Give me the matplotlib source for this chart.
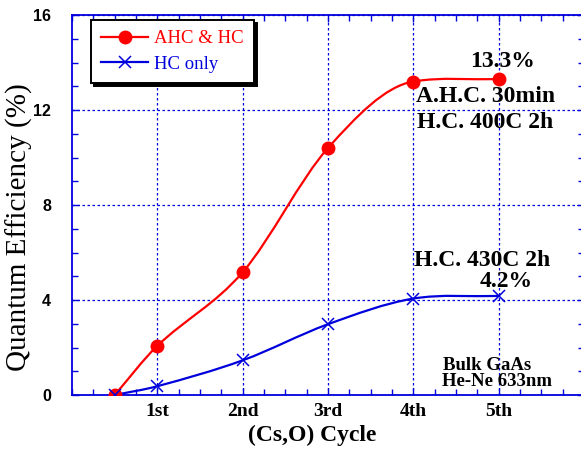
import numpy as np
import matplotlib
matplotlib.use("Agg")
import matplotlib.pyplot as plt
from matplotlib.path import Path
from matplotlib.patches import PathPatch
from matplotlib.ticker import MultipleLocator
from matplotlib.lines import Line2D

cycles = [0.5, 1, 2, 3, 4, 5]
tick_labels = ["1st", "2nd", "3rd", "4th", "5th"]
ahc_hc = [0.0, 2.07, 5.17, 10.4, 13.2, 13.3]
hc_only = [0.0, 0.37, 1.46, 2.98, 4.06, 4.17]

SERIF = "Liberation Serif"
SANS = "Liberation Sans"
BLUE = "#0000dd"
RED = "#ff0000"

fig = plt.figure(figsize=(5.81, 4.49), dpi=100)
ax = fig.add_axes([72/581, 54/449, 512/581, 380/449])


def smooth_path(xs, ys):
    # cardinal cubic with limited tangents, as Bezier segments
    x = np.asarray(xs, float); y = np.asarray(ys, float)
    h = np.diff(x); d = np.diff(y) / h
    n = len(x)
    m = np.zeros(n)
    m[0] = d[0]; m[-1] = d[-1]
    for i in range(1, n - 1):
        s = (y[i + 1] - y[i - 1]) / (x[i + 1] - x[i - 1])
        lim = 6 * min(abs(d[i - 1]), abs(d[i]))
        m[i] = np.sign(s) * min(abs(s), lim)
    verts = [(x[0], y[0])]
    codes = [Path.MOVETO]
    for i in range(n - 1):
        verts += [(x[i] + h[i] / 3, y[i] + m[i] * h[i] / 3),
                  (x[i + 1] - h[i] / 3, y[i + 1] - m[i + 1] * h[i] / 3),
                  (x[i + 1], y[i + 1])]
        codes += [Path.CURVE4] * 3
    return Path(verts, codes)


for ys, col in [(ahc_hc, RED), (hc_only, BLUE)]:
    ax.add_patch(PathPatch(smooth_path(cycles, ys), facecolor="none",
                           edgecolor=col, lw=1.6, zorder=3))

ax.plot(cycles, ahc_hc, ls="none", marker="o", ms=9, color=RED, zorder=4)
ax.plot(cycles, hc_only, ls="none", marker="x", ms=8, mew=1.1, color=BLUE, zorder=4)

ax.set_xlim(0, 6)
ax.set_ylim(0, 16)
ax.set_xticks([1, 2, 3, 4, 5])
ax.set_xticklabels(tick_labels, fontfamily=SERIF, fontweight="bold", fontsize=14)
ax.set_yticks([0, 4, 8, 12, 16])
ax.set_yticklabels(["0", "4", "8", "12", "16"], fontfamily=SANS, fontweight="bold", fontsize=11.5)
ax.xaxis.set_minor_locator(MultipleLocator(0.25))
ax.yaxis.set_minor_locator(MultipleLocator(1))
ax.tick_params(which="both", direction="in", top=True, right=True, color=BLUE, width=1)
ax.tick_params(which="major", length=5)
ax.tick_params(axis="x", which="major", pad=6)
ax.tick_params(axis="y", which="major", pad=15)
ax.tick_params(which="minor", length=4)
for s in ax.spines.values():
    s.set_color(BLUE)
    s.set_linewidth(1.3)
ax.grid(True, which="major", color=BLUE, ls=(0, (2, 2)), lw=0.9)
ax.set_axisbelow(True)

ax.set_ylabel("Quantum Efficiency (%)", fontfamily=SERIF, fontsize=21)
ax.yaxis.set_label_coords(-39/512, 0.442)
ax.set_xlabel("(Cs,O) Cycle", fontfamily=SERIF, fontweight="bold", fontsize=17)
ax.xaxis.set_label_coords(0.469, -30/380)

handles = [Line2D([], [], color=RED, lw=1.6, marker="o", ms=9),
           Line2D([], [], color=BLUE, lw=1.6, marker="x", ms=8, mew=1.1)]
leg = ax.legend(handles, ["AHC & HC", "HC only"], loc="upper left",
                bbox_to_anchor=(19/512, 375/380), borderaxespad=0,
                prop={"family": SERIF, "size": 13.5}, frameon=True, fancybox=False,
                edgecolor="black", framealpha=1, shadow={"color": "black", "alpha": 1},
                handlelength=2.5, handletextpad=0.3, borderpad=0.55, labelspacing=0.45)
leg.get_frame().set_linewidth(1.4)
for t, c in zip(leg.get_texts(), [RED, BLUE]):
    t.set_color(c)

bold = dict(fontfamily=SERIF, fontweight="bold", color="black", va="center")
ax.text(5.05, 14.05, "13.3%", ha="center", fontsize=17, **bold)
ax.text(4.03, 12.58, "A.H.C. 30min", ha="left", fontsize=17, **bold)
ax.text(4.04, 11.46, "H.C. 400C 2h", ha="left", fontsize=17, **bold)
ax.text(4.01, 5.67, "H.C. 430C 2h", ha="left", fontsize=17, **bold)
ax.text(5.09, 4.79, "4.2%", ha="center", fontsize=17, **bold)
ax.text(4.35, 1.25, "Bulk GaAs", ha="left", fontsize=13.5, **bold)
ax.text(4.34, 0.58, "He-Ne 633nm", ha="left", fontsize=13.5, **bold)

fig.savefig("out.png", dpi=100)
